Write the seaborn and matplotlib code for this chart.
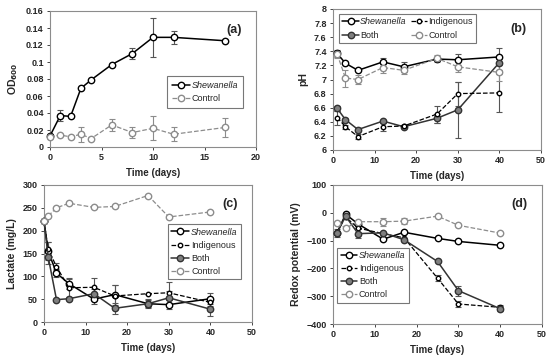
"""
Four-panel time course: OD600, pH, lactate and redox potential.
"""
import matplotlib
matplotlib.use("Agg")
import matplotlib.pyplot as plt
import seaborn as sns

sns.set_style("white")
plt.rcParams["font.family"] = ["Liberation Sans", "DejaVu Sans"]
plt.rcParams["font.weight"] = "bold"

# (a) OD600
od_days = [0, 1, 2, 3, 4, 6, 8, 10, 12, 17]
od_shew = [0.013, 0.037, 0.036, 0.069, 0.079, 0.097, 0.110, 0.129, 0.129, 0.125]
od_shew_err = [0.002, 0.006, 0.0, 0.0, 0.0, 0.0, 0.007, 0.023, 0.008, 0.0]
od_ctrl = [0.012, 0.014, 0.012, 0.015, 0.010, 0.026, 0.017, 0.022, 0.015, 0.023]
od_ctrl_err = [0.0, 0.0, 0.0, 0.009, 0.0, 0.007, 0.006, 0.014, 0.008, 0.011]

# (b) pH
ph_days = [1, 3, 6, 12, 17, 25, 30, 40]
ph_shew = [7.37, 7.23, 7.13, 7.25, 7.18, 7.29, 7.28, 7.32]
ph_shew_err = [0.05, 0.0, 0.0, 0.06, 0.07, 0.0, 0.08, 0.12]
ph_indi = [6.46, 6.33, 6.19, 6.33, 6.34, 6.51, 6.80, 6.81]
ph_indi_err = [0.10, 0.03, 0.04, 0.06, 0.02, 0.12, 0.17, 0.27]
ph_both = [6.59, 6.43, 6.29, 6.41, 6.33, 6.45, 6.57, 7.24]
ph_both_err = [0.03, 0.02, 0.02, 0.02, 0.02, 0.06, 0.40, 0.10]
ph_ctrl = [7.36, 7.02, 7.00, 7.17, 7.13, 7.30, 7.18, 7.10]
ph_ctrl_err = [0.05, 0.12, 0.07, 0.08, 0.05, 0.05, 0.08, 0.12]

# (c) lactate
lac_days = [0, 1, 3, 6, 12, 17, 25, 30, 40]
lac_shew = [221, 155, 107, 84, 50, 60, 40, 38, 51]
lac_shew_err = [0, 20, 8, 12, 10, 22, 8, 10, 12]
lac_indi = [221, 160, 121, 75, 76, 57, 62, 64, 43]
lac_indi_err = [0, 15, 8, 20, 20, 25, 0, 23, 8]
lac_both = [221, 143, 49, 51, 62, 30, 40, 53, 28]
lac_both_err = [0, 15, 0, 0, 10, 12, 10, 15, 15]
lac_ctrl = [221, 232, 250, 260, 251, 253, 277, 230, 241]
lac_ctrl_err = [0, 0, 0, 0, 0, 0, 0, 0, 0]

# (d) redox potential
eh_days = [1, 3, 6, 12, 17, 25, 30, 40]
eh_shew = [-72, -5, -40, -95, -70, -92, -103, -117]
eh_shew_err = [0, 0, 0, 0, 0, 0, 0, 0]
eh_indi = [-68, -15, -55, -75, -90, -235, -328, -340]
eh_indi_err = [0, 0, 0, 0, 0, 12, 12, 8]
eh_both = [-72, -12, -75, -72, -97, -175, -280, -345]
eh_both_err = [15, 0, 15, 0, 0, 0, 18, 8]
eh_ctrl = [-35, -55, -32, -32, -30, -12, -45, -73]
eh_ctrl_err = [0, 0, 0, 15, 12, 0, 0, 0]

styles = {
    "Shewanella": dict(color="black", linestyle="-", marker="o", mfc="white",
                       mec="black", ms=4.6, lw=1.1),
    "Indigenous": dict(color="black", linestyle="--", marker="o", mfc="white",
                       mec="black", ms=3.2, lw=0.9),
    "Both": dict(color="#333333", linestyle="-", marker="o", mfc="#7f7f7f",
                 mec="#333333", ms=4.6, lw=1.1),
    "Control": dict(color="#8c8c8c", linestyle="--", marker="o", mfc="white",
                    mec="#8c8c8c", ms=4.6, lw=0.9),
}
err_colors = {"Shewanella": "#555555", "Indigenous": "#555555",
              "Both": "#555555", "Control": "#8c8c8c"}


def draw(ax, x, y, err, name):
    st = styles[name]
    sns.lineplot(x=x, y=y, ax=ax, label=name, color=st["color"],
                 linestyle=st["linestyle"], linewidth=st["lw"],
                 marker=st["marker"], markersize=st["ms"],
                 markerfacecolor=st["mfc"], markeredgecolor=st["mec"],
                 markeredgewidth=1.0, zorder=3, clip_on=False)
    ax.errorbar(x, y, yerr=err, fmt="none", ecolor=err_colors[name],
                elinewidth=0.8, capsize=2, capthick=0.8, zorder=2)


def style_axes(ax, xlim, xticks, ylim, yticks, ylabel, tag):
    ax.set_xlim(xlim)
    ax.set_ylim(ylim)
    ax.set_xticks(xticks)
    ax.set_yticks(yticks)
    ax.set_xlabel("Time (days)", fontsize=7, fontweight="bold")
    ax.set_ylabel(ylabel, fontsize=7.5, fontweight="bold")
    ax.tick_params(labelsize=6.5, length=2.5, width=0.6, direction="out",
                   left=True, bottom=True, pad=2)
    for lab in ax.get_xticklabels() + ax.get_yticklabels():
        lab.set_fontweight("bold")
    for sp in ax.spines.values():
        sp.set_color("#8c8c8c")
        sp.set_linewidth(0.8)
    ax.text(0.93, 0.86, tag, transform=ax.transAxes, ha="right", va="center",
            fontsize=9, fontweight="bold")


def style_legend(leg):
    leg.get_frame().set_edgecolor("#555555")
    leg.get_frame().set_linewidth(0.8)
    for t in leg.get_texts():
        t.set_fontweight("normal")
        if t.get_text() == "Shewanella":
            t.set_fontstyle("italic")


W, H = 550, 358
fig = plt.figure(figsize=(5.5, 3.58), dpi=100)


def axes_px(l, t, r, b):
    return fig.add_axes([l / W, 1 - b / H, (r - l) / W, (b - t) / H])


ax_a = axes_px(50, 11, 256, 147)
ax_b = axes_px(333, 9, 541, 150)
ax_c = axes_px(44, 185, 252, 322)
ax_d = axes_px(333, 185, 542, 324)

# (a)
draw(ax_a, od_days, od_shew, od_shew_err, "Shewanella")
draw(ax_a, od_days, od_ctrl, od_ctrl_err, "Control")
style_axes(ax_a, (0, 20), [0, 5, 10, 15, 20], (0, 0.16),
           [0, 0.02, 0.04, 0.06, 0.08, 0.1, 0.12, 0.14, 0.16],
           r"OD$_{\mathbf{600}}$", "(a)")
ax_a.set_yticklabels(["0", "0.02", "0.04", "0.06", "0.08", "0.1", "0.12",
                      "0.14", "0.16"])
leg = ax_a.legend(loc="upper left", bbox_to_anchor=(0.57, 0.52),
                  fontsize=6.5, fancybox=False, handlelength=2.0,
                  borderpad=0.5, labelspacing=0.5, handletextpad=0.2,
                  borderaxespad=0)
style_legend(leg)

# (b)
draw(ax_b, ph_days, ph_shew, ph_shew_err, "Shewanella")
draw(ax_b, ph_days, ph_both, ph_both_err, "Both")
draw(ax_b, ph_days, ph_indi, ph_indi_err, "Indigenous")
draw(ax_b, ph_days, ph_ctrl, ph_ctrl_err, "Control")
style_axes(ax_b, (0, 50), [0, 10, 20, 30, 40, 50], (6, 8),
           [6, 6.2, 6.4, 6.6, 6.8, 7, 7.2, 7.4, 7.6, 7.8, 8], "pH", "(b)")
ax_b.set_yticklabels(["6", "6.2", "6.4", "6.6", "6.8", "7", "7.2", "7.4",
                      "7.6", "7.8", "8"])
leg = ax_b.legend(loc="upper left", bbox_to_anchor=(0.03, 0.965), ncol=2,
                  fontsize=6.5, fancybox=False, handlelength=1.8,
                  borderpad=0.35, labelspacing=0.55, handletextpad=0.15,
                  columnspacing=0.5, borderaxespad=0)
style_legend(leg)

# (c)
draw(ax_c, lac_days, lac_shew, lac_shew_err, "Shewanella")
draw(ax_c, lac_days, lac_indi, lac_indi_err, "Indigenous")
draw(ax_c, lac_days, lac_both, lac_both_err, "Both")
draw(ax_c, lac_days, lac_ctrl, lac_ctrl_err, "Control")
style_axes(ax_c, (0, 50), [0, 10, 20, 30, 40, 50], (0, 300),
           [0, 50, 100, 150, 200, 250, 300], "Lactate (mg/L)", "(c)")
leg = ax_c.legend(loc="upper left", bbox_to_anchor=(0.595, 0.715),
                  fontsize=6.5, fancybox=False, handlelength=2.0,
                  borderpad=0.4, labelspacing=0.45, handletextpad=0.2,
                  borderaxespad=0)
style_legend(leg)

# (d)
draw(ax_d, eh_days, eh_shew, eh_shew_err, "Shewanella")
draw(ax_d, eh_days, eh_indi, eh_indi_err, "Indigenous")
draw(ax_d, eh_days, eh_both, eh_both_err, "Both")
draw(ax_d, eh_days, eh_ctrl, eh_ctrl_err, "Control")
style_axes(ax_d, (0, 50), [0, 10, 20, 30, 40, 50], (-400, 100),
           [-400, -300, -200, -100, 0, 100], "Redox potential (mV)", "(d)")
leg = ax_d.legend(loc="upper left", bbox_to_anchor=(0.02, 0.55),
                  fontsize=6.5, fancybox=False, handlelength=1.8,
                  borderpad=0.4, labelspacing=0.45, handletextpad=0.2,
                  borderaxespad=0)
style_legend(leg)

fig.savefig("out.png", dpi=100)
